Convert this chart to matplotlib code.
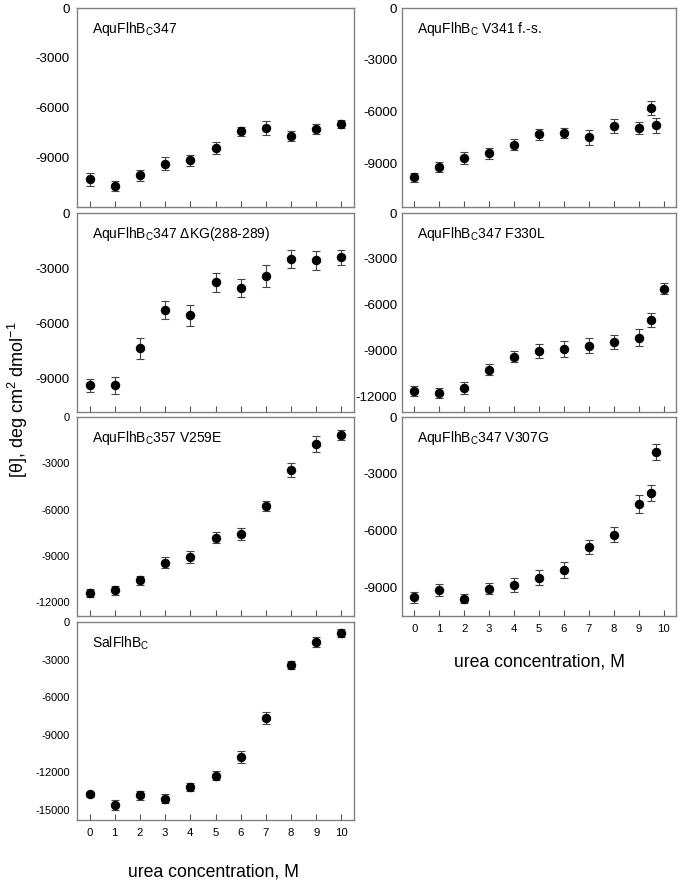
import matplotlib
matplotlib.use('Agg')
import matplotlib.pyplot as plt

plt.rcParams['font.family'] = ['Liberation Sans', 'DejaVu Sans']
plt.rcParams['mathtext.fontset'] = 'custom'
plt.rcParams['mathtext.rm'] = 'Liberation Sans'
plt.rcParams['mathtext.it'] = 'Liberation Sans:italic'
plt.rcParams['axes.unicode_minus'] = False

# ---------------- data ----------------
urea = [0, 1, 2, 3, 4, 5, 6, 7, 8, 9, 10]
urea_fs = [0, 1, 2, 3, 4, 5, 6, 7, 8, 9, 9.5, 9.7]
urea_f330l = [0, 1, 2, 3, 4, 5, 6, 7, 8, 9, 9.5, 10]
urea_v307g = [0, 1, 2, 3, 4, 5, 6, 7, 8, 9, 9.5, 9.7]
tick_labels = ['0', '1', '2', '3', '4', '5', '6', '7', '8', '9', '10']

wt347_y = [-10340, -10740, -10100, -9380, -9180, -8440, -7440, -7240, -7700, -7300, -7000]
wt347_e = [400, 300, 350, 400, 330, 350, 250, 400, 300, 280, 250]

dkg_y = [-9360, -9360, -7350, -5270, -5560, -3770, -4070, -3420, -2500, -2570, -2400]
dkg_e = [350, 450, 550, 500, 550, 500, 500, 600, 500, 500, 400]

v259e_y = [-11410, -11240, -10590, -9440, -9070, -7830, -7570, -5770, -3450, -1760, -1170]
v259e_e = [250, 300, 300, 350, 400, 350, 400, 300, 450, 500, 300]

sal_y = [-13730, -14580, -13830, -14100, -13170, -12270, -10780, -7650, -3450, -1570, -880]
sal_e = [200, 400, 350, 350, 350, 350, 450, 450, 300, 400, 350]

fs_y = [-9780, -9175, -8670, -8400, -7890, -7310, -7230, -7480, -6800, -6960, -5770, -6780]
fs_e = [250, 280, 370, 300, 300, 320, 300, 420, 400, 350, 400, 450]

f330l_y = [-11630, -11760, -11410, -10230, -9380, -9010, -8880, -8660, -8440, -8160, -7000, -4950]
f330l_e = [300, 300, 400, 350, 350, 480, 550, 480, 450, 550, 450, 350]

v307g_y = [-9520, -9140, -9580, -9050, -8860, -8470, -8060, -6870, -6210, -4590, -4030, -1870]
v307g_e = [300, 320, 250, 300, 380, 420, 420, 380, 400, 500, 420, 420]

# ---------------- layout ----------------
W, H = 683, 884
fig = plt.figure(figsize=(W / 100, H / 100), dpi=100)

col_x = [(77, 354), (402, 676)]
row_y = [(8, 207), (213, 412), (417, 616), (622, 820)]

# title, x, y, err, ymin, row, col, show x labels, ytick size
panels = [
    ('AquFlhB$_\\mathregular{C}$347', urea, wt347_y, wt347_e, -12000, 0, 0, False, 9.6),
    ('AquFlhB$_\\mathregular{C}$347 \u0394KG(288-289)', urea, dkg_y, dkg_e, -10800, 1, 0, False, 9.6),
    ('AquFlhB$_\\mathregular{C}$357 V259E', urea, v259e_y, v259e_e, -12900, 2, 0, False, 8.0),
    ('SalFlhB$_\\mathregular{C}$', urea, sal_y, sal_e, -15800, 3, 0, True, 8.0),
    ('AquFlhB$_\\mathregular{C}$ V341 f.-s.', urea_fs, fs_y, fs_e, -11500, 0, 1, False, 9.6),
    ('AquFlhB$_\\mathregular{C}$347 F330L', urea_f330l, f330l_y, f330l_e, -13000, 1, 1, False, 9.6),
    ('AquFlhB$_\\mathregular{C}$347 V307G', urea_v307g, v307g_y, v307g_e, -10500, 2, 1, True, 9.6),
]

spine_col = '#808080'
for title, xs, ys, es, ymin, r, c, bottom, ysz in panels:
    x0, x1 = col_x[c]
    t0, t1 = row_y[r]
    ax = fig.add_axes([x0 / W, 1 - t1 / H, (x1 - x0) / W, (t1 - t0) / H])
    ax.errorbar(xs, ys, yerr=es, fmt='o', color='black', ms=5.8,
                ecolor='#444444', elinewidth=0.8, capsize=2.6, capthick=0.8,
                zorder=3)
    ax.set_xlim(-0.5, 10.5)
    ax.set_ylim(ymin, 0)
    ax.set_xticks(range(11))
    ax.set_xticklabels(tick_labels)
    yt = [v for v in range(0, -16000, -3000) if v > ymin + 300]
    ax.set_yticks(yt)
    ax.set_yticklabels([str(v) for v in yt])
    ax.tick_params(axis='x', direction='in', length=4, width=0.8,
                   color='#555555', labelsize=8.2, pad=6,
                   labelbottom=bottom)
    ax.tick_params(axis='y', length=0, labelsize=ysz,
                   pad=5.3 if c == 0 else 3.6)
    for s in ax.spines.values():
        s.set_color(spine_col)
        s.set_linewidth(1.0)
    ax.annotate(title, xy=(0, 1), xycoords='axes fraction',
                xytext=(11, -15), textcoords='offset points',
                ha='left', va='center', fontsize=10)

fig.text(214 / W, 1 - 872 / H, 'urea concentration, M', ha='center',
         va='center', fontsize=12.7)
fig.text(540 / W, 1 - 662 / H, 'urea concentration, M', ha='center',
         va='center', fontsize=12.7)
fig.text(18 / W, 1 - 400 / H, '[\u03b8], deg cm$^\\mathregular{2}$ dmol$^\\mathregular{-1}$',
         rotation=90, ha='center', va='center', fontsize=13)

fig.savefig('out.png', dpi=100)
